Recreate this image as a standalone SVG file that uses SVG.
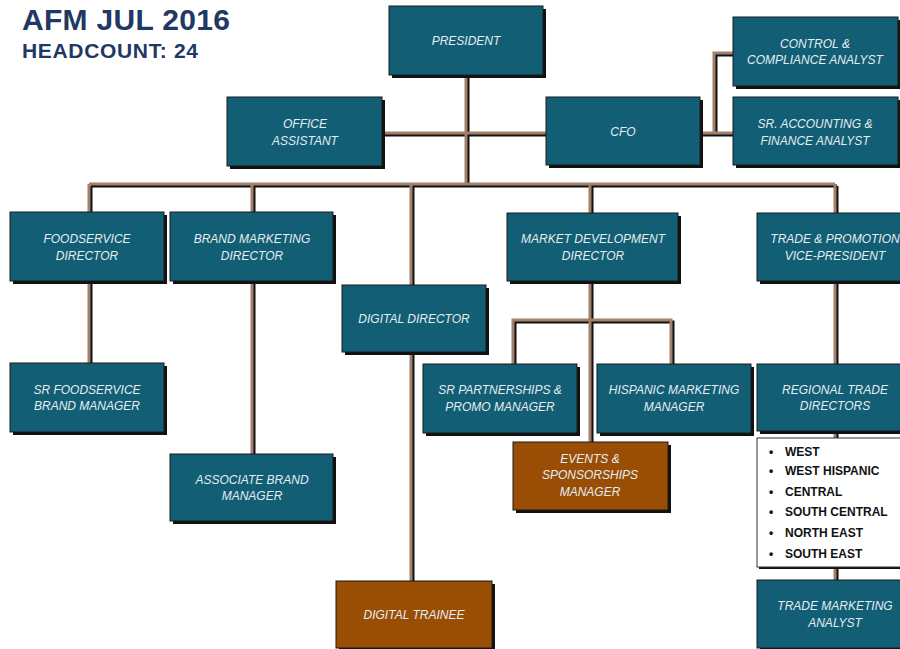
<svg xmlns="http://www.w3.org/2000/svg" width="900" height="649" viewBox="0 0 900 649">
<style>
.sh{fill:#111}
.bx{fill:#125e74;stroke:#1a1a1a;stroke-width:1}
.or{fill:#9a4d05;stroke:#1a1a1a;stroke-width:1}
.t{font-family:"Liberation Sans",Arial,sans-serif;font-style:italic;font-size:12px;fill:#e4edf1;text-anchor:middle}
.ln{fill:none;stroke:#a2806b;stroke-width:3}
.lns{fill:none;stroke:#111;stroke-width:3}
.li{font-family:"Liberation Sans",Arial,sans-serif;font-weight:bold;font-size:12px;fill:#111}
.title{font-family:"Liberation Sans",Arial,sans-serif;font-weight:bold;fill:#1f3864}
</style>
<rect width="900" height="649" fill="#fff"/>
<text class="title" x="22" y="30" font-size="30" textLength="208">AFM JUL 2016</text>
<text class="title" x="22" y="58" font-size="21" textLength="176">HEADCOUNT: 24</text>
<g id="connectors">
<g transform="translate(2,2)">
<path class="lns" d="M466 75V184M382 133H546M700 133H733M714 133V53H733M89 184H835M89 184V212M252 184V212M411 184V285M590 184V213M835 184V213M89 281V363M252 281V454M411 353V581M590 281V442M513 364V320H671V364M835 281V364M835 431V438M835 567V580"/>
</g>
<path class="ln" d="M466 75V184M382 133H546M700 133H733M714 133V53H733M89 184H835M89 184V212M252 184V212M411 184V285M590 184V213M835 184V213M89 281V363M252 281V454M411 353V581M590 281V442M513 364V320H671V364M835 281V364M835 431V438M835 567V580"/>
</g>
<g id="president"><rect class="sh" x="392" y="9" width="154" height="69"/><rect class="bx" x="389" y="6" width="154" height="69"/><text class="t" x="466" y="45">PRESIDENT</text></g>
<g id="control"><rect class="sh" x="736" y="20" width="165" height="69"/><rect class="bx" x="733" y="17" width="165" height="69"/><text class="t" x="815" y="48">CONTROL &amp;</text><text class="t" x="815" y="64">COMPLIANCE ANALYST</text></g>
<g id="office"><rect class="sh" x="230" y="100" width="155" height="69"/><rect class="bx" x="227" y="97" width="155" height="69"/><text class="t" x="305" y="128">OFFICE</text><text class="t" x="305" y="145">ASSISTANT</text></g>
<g id="cfo"><rect class="sh" x="549" y="100" width="154" height="68"/><rect class="bx" x="546" y="97" width="154" height="68"/><text class="t" x="623" y="136">CFO</text></g>
<g id="sracct"><rect class="sh" x="736" y="100" width="165" height="68"/><rect class="bx" x="733" y="97" width="165" height="68"/><text class="t" x="815" y="128">SR. ACCOUNTING &amp;</text><text class="t" x="815" y="145">FINANCE ANALYST</text></g>
<g id="foodservice"><rect class="sh" x="13" y="215" width="154" height="69"/><rect class="bx" x="10" y="212" width="154" height="69"/><text class="t" x="87" y="243">FOODSERVICE</text><text class="t" x="87" y="260">DIRECTOR</text></g>
<g id="brand"><rect class="sh" x="173" y="215" width="163" height="69"/><rect class="bx" x="170" y="212" width="163" height="69"/><text class="t" x="252" y="243">BRAND MARKETING</text><text class="t" x="252" y="260">DIRECTOR</text></g>
<g id="marketdev"><rect class="sh" x="510" y="216" width="171" height="68"/><rect class="bx" x="507" y="213" width="171" height="68"/><text class="t" x="593" y="243">MARKET DEVELOPMENT</text><text class="t" x="593" y="260">DIRECTOR</text></g>
<g id="trade"><rect class="sh" x="760" y="216" width="156" height="68"/><rect class="bx" x="757" y="213" width="156" height="68"/><text class="t" x="835" y="243">TRADE &amp; PROMOTION</text><text class="t" x="835" y="260">VICE-PRESIDENT</text></g>
<g id="digital"><rect class="sh" x="345" y="288" width="144" height="67"/><rect class="bx" x="342" y="285" width="144" height="67"/><text class="t" x="414" y="323">DIGITAL DIRECTOR</text></g>
<g id="srfood"><rect class="sh" x="13" y="366" width="154" height="69"/><rect class="bx" x="10" y="363" width="154" height="69"/><text class="t" x="87" y="394">SR FOODSERVICE</text><text class="t" x="87" y="410">BRAND MANAGER</text></g>
<g id="srpartner"><rect class="sh" x="426" y="367" width="154" height="69"/><rect class="bx" x="423" y="364" width="154" height="69"/><text class="t" x="500" y="394">SR PARTNERSHIPS &amp;</text><text class="t" x="500" y="411">PROMO MANAGER</text></g>
<g id="hispanic"><rect class="sh" x="600" y="367" width="154" height="69"/><rect class="bx" x="597" y="364" width="154" height="69"/><text class="t" x="674" y="394">HISPANIC MARKETING</text><text class="t" x="674" y="411">MANAGER</text></g>
<g id="regional"><rect class="sh" x="760" y="367" width="156" height="67"/><rect class="bx" x="757" y="364" width="156" height="67"/><text class="t" x="835" y="394">REGIONAL TRADE</text><text class="t" x="835" y="410">DIRECTORS</text></g>
<g id="events"><rect class="sh" x="516" y="445" width="155" height="68"/><rect class="or" x="513" y="442" width="155" height="68"/><text class="t" x="590" y="463">EVENTS &amp;</text><text class="t" x="590" y="479">SPONSORSHIPS</text><text class="t" x="590" y="496">MANAGER</text></g>
<g id="regions"><rect class="sh" x="759" y="440" width="160" height="129"/><rect x="757" y="438" width="160" height="129" fill="#fff" stroke="#333" stroke-width="1"/>
<g class="li"><text x="769" y="456">•</text><text x="785" y="456">WEST</text><text x="769" y="475">•</text><text x="785" y="475">WEST HISPANIC</text><text x="769" y="496">•</text><text x="785" y="496">CENTRAL</text><text x="769" y="516">•</text><text x="785" y="516">SOUTH CENTRAL</text><text x="769" y="537">•</text><text x="785" y="537">NORTH EAST</text><text x="769" y="558">•</text><text x="785" y="558">SOUTH EAST</text></g></g>
<g id="assocbrand"><rect class="sh" x="173" y="457" width="163" height="67"/><rect class="bx" x="170" y="454" width="163" height="67"/><text class="t" x="252" y="484">ASSOCIATE BRAND</text><text class="t" x="252" y="500">MANAGER</text></g>
<g id="trainee"><rect class="sh" x="339" y="584" width="156" height="67"/><rect class="or" x="336" y="581" width="156" height="67"/><text class="t" x="414" y="619">DIGITAL TRAINEE</text></g>
<g id="tma"><rect class="sh" x="760" y="583" width="156" height="68"/><rect class="bx" x="757" y="580" width="156" height="68"/><text class="t" x="835" y="610">TRADE MARKETING</text><text class="t" x="835" y="627">ANALYST</text></g>
</svg>
